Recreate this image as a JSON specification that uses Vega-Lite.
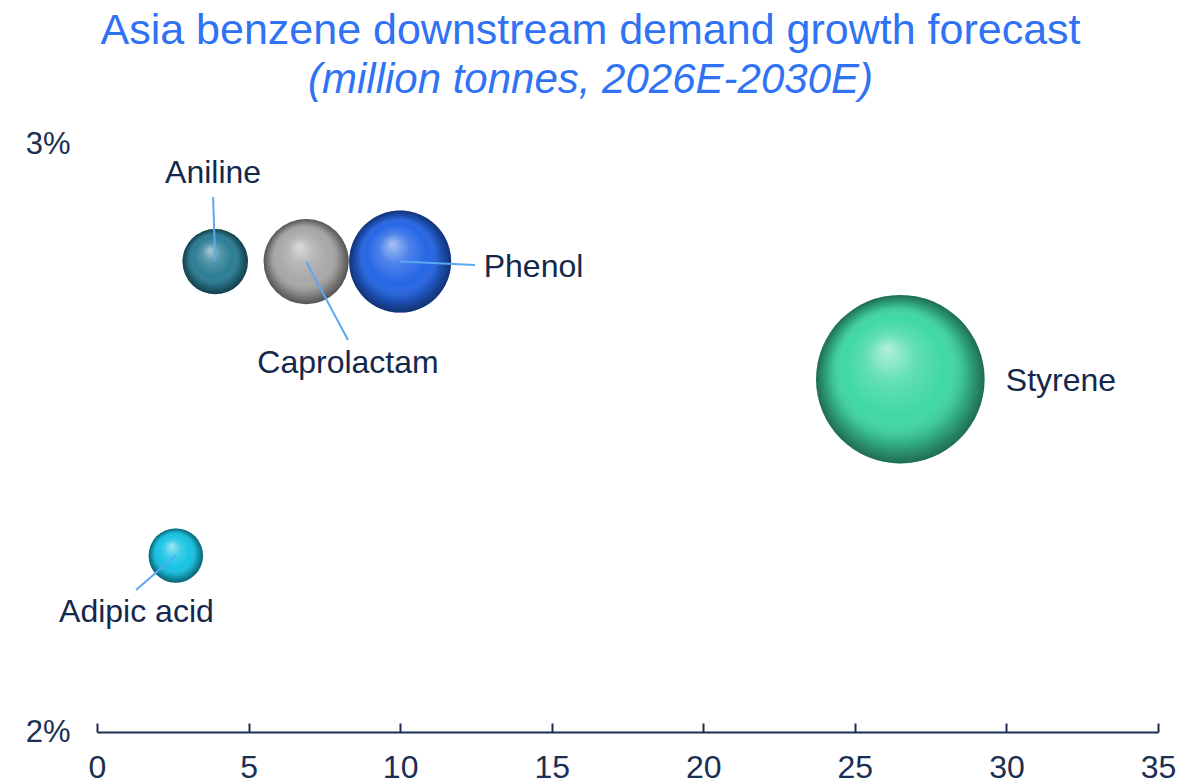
{
  "$schema": "https://vega.github.io/schema/vega-lite/v6.json",
  "width": 1061,
  "height": 588,
  "autosize": {"type": "none"},
  "padding": {"left": 97, "top": 144, "right": 46, "bottom": 52},
  "background": "#ffffff",
  "config": {
    "view": {"stroke": null},
    "font": "Liberation Sans"
  },
  "title": {
    "text": "Asia benzene downstream demand growth forecast",
    "subtitle": "(million tonnes, 2026E-2030E)",
    "font": "Liberation Sans",
    "subtitleFont": "Liberation Sans",
    "fontSize": 43,
    "subtitleFontSize": 42,
    "fontWeight": "normal",
    "subtitleFontStyle": "italic",
    "color": "#2f72f4",
    "subtitleColor": "#2f72f4",
    "anchor": "middle",
    "frame": "group",
    "dx": -37,
    "offset": 27,
    "subtitlePadding": 7
  },
  "data": {
    "values": [
      {"product": "Aniline", "demand": 3.9, "growth": 0.028, "increment": 1.07, "labelX": 3.83, "labelY": 0.029337, "lineX": 3.83, "lineY": 0.029099},
      {"product": "Caprolactam", "demand": 6.9, "growth": 0.028, "increment": 1.81, "labelX": 8.28, "labelY": 0.026105, "lineX": 8.28, "lineY": 0.026667},
      {"product": "Phenol", "demand": 10.0, "growth": 0.028, "increment": 2.6, "labelX": 14.4, "labelY": 0.027738, "lineX": 12.47, "lineY": 0.027942},
      {"product": "Styrene", "demand": 26.5, "growth": 0.026, "increment": 7.1, "labelX": 31.8, "labelY": 0.025799, "lineX": null, "lineY": null},
      {"product": "Adipic acid", "demand": 2.6, "growth": 0.023, "increment": 0.74, "labelX": 1.3, "labelY": 0.021871, "lineX": 1.287, "lineY": 0.022415}
    ]
  },
  "layer": [
    {
      "mark": {"type": "circle", "opacity": 1, "strokeWidth": 0},
      "encoding": {
        "x": {
          "field": "demand", "type": "quantitative",
          "scale": {"domain": [0, 35], "nice": false, "zero": false},
          "axis": {
            "title": null, "values": [0, 5, 10, 15, 20, 25, 30, 35],
            "grid": false, "domainColor": "#1b2f52", "domainWidth": 2,
            "tickColor": "#1b2f52", "tickWidth": 2, "tickSize": -9,
            "labelFontSize": 32, "labelColor": "#1b2f52", "labelPadding": 29,
            "labelFlush": false, "labelOverlap": false, "labelFont": "Liberation Sans"
          }
        },
        "y": {
          "field": "growth", "type": "quantitative",
          "scale": {"domain": [0.02, 0.03], "nice": false, "zero": false},
          "axis": {
            "title": null, "values": [0.02, 0.03], "format": ".0%",
            "grid": false, "domain": false, "ticks": false,
            "labelFontSize": 31, "labelColor": "#1b2f52", "labelPadding": 27,
            "labelFlush": false, "labelOverlap": false, "labelFont": "Liberation Sans"
          }
        },
        "size": {
          "field": "increment", "type": "quantitative",
          "scale": {"domain": [0, 10], "range": [0, 40000]},
          "legend": null
        },
        "color": {
          "field": "product", "type": "nominal",
          "scale": {
            "domain": ["Aniline", "Caprolactam", "Phenol", "Styrene", "Adipic acid"],
            "range": ["#2b7d94", "#a8a8a8", "#2566e6", "#3fd8a3", "#17c3e3"]
          },
          "legend": null
        }
      }
    },
    {
      "mark": {
        "type": "circle", "opacity": 1, "strokeWidth": 0,
        "fill": {
          "gradient": "radial",
          "x1": 0.42, "y1": 0.32, "r1": 0,
          "x2": 0.5, "y2": 0.5, "r2": 0.5,
          "stops": [
            {"offset": 0, "color": "rgba(255,255,255,0.6)"},
            {"offset": 0.3, "color": "rgba(255,255,255,0.18)"},
            {"offset": 0.6, "color": "rgba(255,255,255,0)"},
            {"offset": 0.82, "color": "rgba(0,0,0,0.18)"},
            {"offset": 1, "color": "rgba(0,0,0,0.5)"}
          ]
        }
      },
      "encoding": {
        "x": {"field": "demand", "type": "quantitative"},
        "y": {"field": "growth", "type": "quantitative"},
        "size": {"field": "increment", "type": "quantitative"}
      }
    },
    {
      "transform": [{"filter": "isValid(datum.lineX)"}],
      "mark": {"type": "rule", "color": "#5ba8f2", "strokeWidth": 2},
      "encoding": {
        "x": {"field": "demand", "type": "quantitative"},
        "y": {"field": "growth", "type": "quantitative"},
        "x2": {"field": "lineX"},
        "y2": {"field": "lineY"}
      }
    },
    {
      "mark": {"type": "text", "fontSize": 32, "align": "center", "baseline": "alphabetic", "color": "#14284b", "font": "Liberation Sans"},
      "encoding": {
        "x": {"field": "labelX", "type": "quantitative"},
        "y": {"field": "labelY", "type": "quantitative"},
        "text": {"field": "product", "type": "nominal"}
      }
    }
  ]
}
